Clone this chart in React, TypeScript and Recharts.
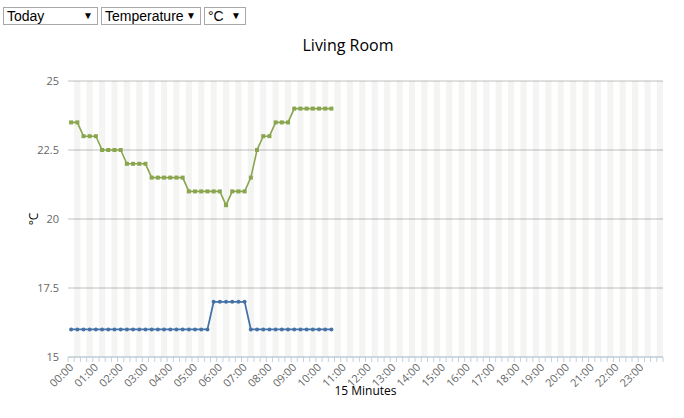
import React from "react";
import {
  ComposedChart,
  Line,
  XAxis,
  YAxis,
  CartesianGrid,
  ReferenceArea,
  Label,
} from "recharts";

// Living room temperature, one reading per 15 minutes (Highcharts-style look).

const HOURS = Array.from({ length: 24 }, (_, h) => String(h).padStart(2, "0"));
const QUARTERS = ["00", "15", "30", "45"];
const SLOTS = HOURS.flatMap((h) => QUARTERS.map((m) => `${h}:${m}`));

// readings 00:00 .. 10:30, the rest of the day is empty
const SENSOR_A = [
  23.5, 23.5, 23, 23, 23, 22.5, 22.5, 22.5, 22.5, 22, 22, 22, 22, 21.5, 21.5,
  21.5, 21.5, 21.5, 21.5, 21, 21, 21, 21, 21, 21, 20.5, 21, 21, 21, 21.5, 22.5,
  23, 23, 23.5, 23.5, 23.5, 24, 24, 24, 24, 24, 24, 24,
];
const SENSOR_B = [
  16, 16, 16, 16, 16, 16, 16, 16, 16, 16, 16, 16, 16, 16, 16, 16, 16, 16, 16,
  16, 16, 16, 16, 17, 17, 17, 17, 17, 17, 16, 16, 16, 16, 16, 16, 16, 16, 16,
  16, 16, 16, 16, 16,
];
const Y_TICKS = [15, 17.5, 20, 22.5, 25];

const data = SLOTS.map((slot, i) => ({
  slot,
  a: SENSOR_A[i] ?? null,
  b: SENSOR_B[i] ?? null,
}));

const WIDTH = 684;
const HEIGHT = 418;
const MARGIN = { top: 81, right: 21, bottom: 11, left: 8 };
const Y_AXIS_W = 60;
const PLOT_W = WIDTH - MARGIN.left - MARGIN.right - Y_AXIS_W;
const BAND = PLOT_W / SLOTS.length;

const FONT = "'Open Sans', 'DejaVu Sans', sans-serif";
const AXIS_BLUE = "#C0D0E0";
const LABEL_GRAY = "#666666";

function SlotTick(props: any) {
  const { x, y, payload, index } = props;
  const i = index ?? payload.index;
  const left = x - BAND / 2;
  const isLast = i === SLOTS.length - 1;
  const onHour = i % 4 === 0;
  return (
    <g>
      <line x1={left} x2={left} y1={y} y2={y + 5} stroke={AXIS_BLUE} />
      {isLast && (
        <line x1={x + BAND / 2} x2={x + BAND / 2} y1={y} y2={y + 5} stroke={AXIS_BLUE} />
      )}
      {onHour && (
        <text
          x={0}
          y={0}
          transform={`translate(${x + 3},${y + 11}) rotate(-45)`}
          textAnchor="end"
          fontSize={11}
          fontFamily={FONT}
          fill={LABEL_GRAY}
        >
          {payload.value}
        </text>
      )}
    </g>
  );
}

function Picker({ left, width, text }: { left: number; width: number; text: string }) {
  return (
    <div
      style={{
        position: "absolute",
        left,
        top: 7,
        width,
        height: 18,
        boxSizing: "border-box",
        border: "1px solid #a9a9a9",
        fontFamily: "Arial, 'Liberation Sans', sans-serif",
        fontSize: 14,
        lineHeight: "16px",
        paddingLeft: 3,
        color: "#000",
        background: "#fff",
      }}
    >
      {text}
      <span style={{ position: "absolute", right: 4, top: 0, fontSize: 10 }}>▼</span>
    </div>
  );
}

export default function App() {
  const bands = SLOTS.filter((_, i) => i % 2 === 1);
  return (
    <div
      style={{
        position: "absolute",
        left: 0,
        top: 0,
        width: WIDTH,
        height: HEIGHT,
        background: "#fff",
        overflow: "hidden",
      }}
    >
      <Picker left={3} width={95} text="Today" />
      <Picker left={101} width={100} text="Temperature" />
      <Picker left={204} width={42} text="°C" />
      <div
        style={{
          position: "absolute",
          left: 0,
          top: 0,
          width: WIDTH,
          height: HEIGHT,
        }}
      >
        <ComposedChart width={WIDTH} height={HEIGHT} data={data} margin={MARGIN}>
          {bands.map((s) => (
            // translucent so the horizontal grid lines still show through
            <ReferenceArea
              key={s}
              x1={s}
              x2={s}
              fill="rgb(72,88,38)"
              fillOpacity={0.06}
              stroke="none"
              ifOverflow="visible"
            />
          ))}
          <CartesianGrid vertical={false} stroke="#c0c0c0" />
          <XAxis
            dataKey="slot"
            scale="band"
            interval={0}
            height={50}
            stroke={AXIS_BLUE}
            tickLine={false}
            tickSize={0}
            tickMargin={0}
            tick={<SlotTick />}
          >
            <Label
              value="15 Minutes"
              position="insideBottom"
              offset={12}
              style={{ fontFamily: FONT, fontSize: 12, fill: "#000" }}
            />
          </XAxis>
          <YAxis
            width={Y_AXIS_W}
            domain={[15, 25]}
            ticks={Y_TICKS}
            axisLine={false}
            tickLine={false}
            tickSize={0}
            tickMargin={9}
            tick={{ fontSize: 11, fill: LABEL_GRAY, fontFamily: FONT }}
          >
            <Label
              value="°C"
              angle={-90}
              position="insideLeft"
              offset={26}
              style={{ fontFamily: FONT, fontSize: 12, fill: "#000", textAnchor: "middle" }}
            />
          </YAxis>
          <Line
            dataKey="a"
            stroke="#89A54E"
            strokeWidth={1.6}
            dot={(p: any) =>
              p.value == null ? (
                <g key={p.index} />
              ) : (
                <rect
                  key={p.index}
                  x={p.cx - 2}
                  y={p.cy - 2}
                  width={4}
                  height={4}
                  fill="#89A54E"
                />
              )
            }
            activeDot={false}
            connectNulls={false}
            isAnimationActive={false}
          />
          <Line
            dataKey="b"
            stroke="#4572A7"
            strokeWidth={1.8}
            dot={{ r: 2, fill: "#4572A7", stroke: "none" }}
            activeDot={false}
            connectNulls={false}
            isAnimationActive={false}
          />
        </ComposedChart>
      </div>
      <div
        style={{
          position: "absolute",
          left: 0,
          top: 34,
          width: 696,
          textAlign: "center",
          fontFamily: FONT,
          fontSize: 16,
          color: "#000",
        }}
      >
        Living Room
      </div>
    </div>
  );
}
